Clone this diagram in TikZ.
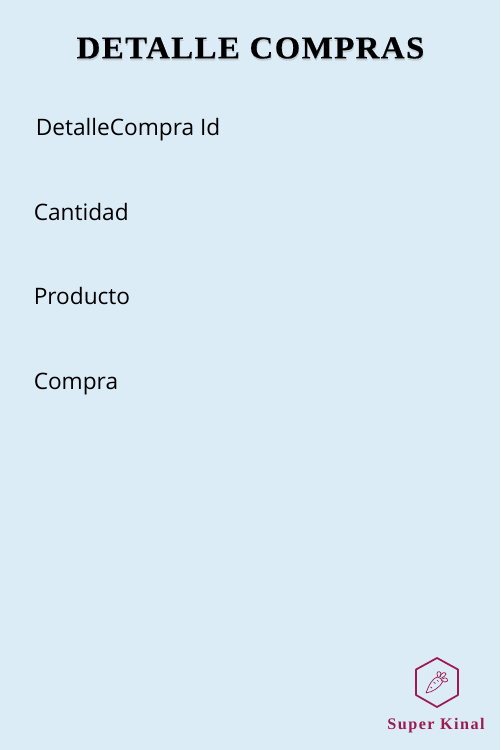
\documentclass[tikz,border=0pt]{standalone}
\usepackage{fontspec}
\setmainfont{Open Sans}
\newfontfamily\titlefont[LetterSpace=4.5,FakeStretch=1.04,BoldFeatures={FakeBold=0.4}]{Liberation Serif}
\newfontfamily\brandfont[LetterSpace=9]{Liberation Serif}
\definecolor{paleblue}{HTML}{DCECF7}
\definecolor{wine}{HTML}{9B1B50}
\tikzset{
  campo/.style={anchor=base west, inner sep=0pt, font=\fontsize{12.9}{16}\selectfont, text=black},
  titulo/.style={inner sep=0pt, font=\titlefont\bfseries\fontsize{18}{22}\selectfont},
  marca/.style={draw=wine, line join=round}
}
\begin{document}
\begin{tikzpicture}[line join=round, x=0.02cm, y=-0.02cm]
\useasboundingbox[fill=paleblue] (0,0) rectangle (500,750);
\node[titulo, text=black!45, opacity=0.3] (sombra) at (251,50) {DETALLE COMPRAS};
\node[titulo, text=black] (titulo) at (250.5,48) {DETALLE COMPRAS};
\node[campo] (id) at (35.5,135) {DetalleCompra Id};
\node[campo] (cantidad) at (33.4,220) {Cantidad};
\node[campo] (producto) at (33.4,304) {Producto};
\node[campo] (compra) at (33.4,389) {Compra};
% logo
\draw[marca, line width=1pt] (437,658)--(458,669.5)--(458,695)--(437,707)--(416,695)--(416,669.5)--cycle;
\draw[marca, line width=0.4pt] (426,693) .. controls (429,685) and (432,679) .. (437,677) .. controls (440,677) and (442,679) .. (442.5,682) .. controls (440,687) and (433,692) .. (426,693);
\draw[marca, line width=0.4pt] (430.5,687) -- (432,688) (433.5,682) -- (435.5,683.5) (437,680) -- (438.5,681.5);
\draw[marca, line width=0.4pt] (438,677) .. controls (435,672) and (439,670) .. (441,673) .. controls (441,675) and (440,676) .. (439.5,677);
\draw[marca, line width=0.4pt] (440,677) .. controls (441,673) and (445,671) .. (446,674) .. controls (446,676) and (443,677) .. (441.5,678);
\draw[marca, line width=0.4pt] (442,679) .. controls (445,677) and (448,678) .. (447.5,681) .. controls (446,683) and (443.5,682) .. (442.5,680.5);
\node[inner sep=0pt, text=wine, font=\brandfont\bfseries\fontsize{9.2}{10}\selectfont] (kinal) at (436,725.5) {Super Kinal};
\end{tikzpicture}
\end{document}
